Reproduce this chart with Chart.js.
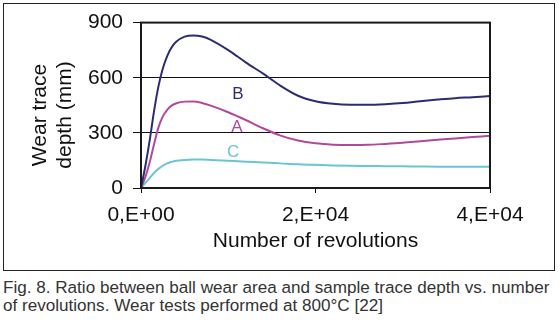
<!DOCTYPE html>
<html>
<head>
<meta charset="utf-8">
<script src="https://cdn.jsdelivr.net/npm/chart.js@4/dist/chart.umd.min.js"></script>
<style>
  html, body { margin: 0; padding: 0; background: #fff; }
  body { width: 560px; height: 324px; position: relative; overflow: hidden; font-family: "Liberation Sans", Arial, sans-serif; }
  #frame { position: absolute; left: 3px; top: 3px; width: 552px; height: 268px; box-sizing: border-box; border: 1px solid #222; }
  #chart { position: absolute; left: 0; top: 0; }
  #caption { position: absolute; left: 3px; top: 279px; width: 556px; font-size: 17.1px; line-height: 18px; color: #333; white-space: nowrap; }
</style>
</head>
<body>
<div id="frame"></div>
<canvas id="chart" width="560" height="272"></canvas>
<div id="caption">Fig. 8. Ratio between ball wear area and sample trace depth vs. number<br>of revolutions. Wear tests performed at 800°C [22]</div>
<script>
// Number of revolutions at which the curves are sampled
const revolutions = [0, 500, 1000, 1500, 2000, 2500, 3000, 3500, 4000, 5000, 6000, 7000, 8000, 10000,
  12000, 14000, 16000, 18000, 20000, 22000, 24000, 26000, 28000, 30000, 32000, 34000, 36000, 38000, 40000];

// Wear trace depth (mm) for each sample
const seriesB = [0, 120, 260, 420, 553, 650, 718, 765, 795, 824, 830, 824, 806, 750,
  684, 622, 556, 502, 472, 458, 453, 453, 456, 462, 472, 481, 489, 494, 500];
const seriesA = [0, 60, 140, 240, 330, 390, 425, 448, 460, 470, 471, 463, 448, 412,
  370, 325, 285, 258, 243, 236, 234, 235, 240, 246, 254, 262, 270, 277, 284];
const seriesC = [0, 28, 55, 82, 104, 121, 134, 142, 148, 153, 155, 155, 153, 148,
  143, 139, 134, 129, 126, 123, 121, 120, 119, 118, 117, 116, 116, 115, 115];

const seriesNames = ['B', 'A', 'C'];
const seriesColors = ['#2c2c72', '#b2489c', '#68c6d3'];

// Curve name tags, anchored in data units (revolutions, depth)
const tagRevs = [11100, 11000, 10550];
const tagDepths = [512, 329, 194];

const yTicks = [0, 300, 600, 900];
const xTickLabels = ['0,E+00', '2,E+04', '4,E+04'];

const yTitleLines = ['Wear trace', 'depth (mm)'];
const xTitle = 'Number of revolutions';

const FONT = '"Liberation Sans", Arial, sans-serif';

const datasets = [seriesB, seriesA, seriesC].map((vals, i) => ({
  label: seriesNames[i],
  data: revolutions.map((r, k) => ({ x: r, y: vals[k] })),
  borderColor: seriesColors[i],
  borderWidth: 2,
  pointRadius: 0,
  fill: false,
  cubicInterpolationMode: 'monotone'
}));

// Plot frame, rotated y-axis title and curve name tags
const decorations = {
  id: 'decorations',
  afterDatasetsDraw(chart) {
    const { ctx, chartArea: a, scales } = chart;
    ctx.save();
    ctx.strokeStyle = '#1a1a1a';
    ctx.lineWidth = 2;
    ctx.strokeRect(a.left, a.top, a.right - a.left, a.bottom - a.top);

    ctx.font = '17px ' + FONT;
    ctx.textAlign = 'center';
    ctx.textBaseline = 'middle';
    seriesNames.forEach((n, i) => {
      ctx.fillStyle = seriesColors[i];
      ctx.fillText(n, scales.x.getPixelForValue(tagRevs[i]), scales.y.getPixelForValue(tagDepths[i]));
    });

    ctx.fillStyle = '#111';
    ctx.font = '21px ' + FONT;
    ctx.translate(40.5, 115);
    ctx.rotate(-Math.PI / 2);
    yTitleLines.forEach((t, i) => ctx.fillText(t, 0, i * 25));
    ctx.restore();
  }
};

new Chart(document.getElementById('chart'), {
  type: 'line',
  data: { datasets },
  options: {
    responsive: false,
    animation: false,
    devicePixelRatio: 1,
    layout: { padding: { top: 21, right: 70, left: 0, bottom: 0 } },
    plugins: { legend: { display: false }, tooltip: { enabled: false } },
    scales: {
      x: {
        type: 'linear',
        min: 0,
        max: 40000,
        afterBuildTicks: s => { s.ticks = [0, 20000, 40000].map(v => ({ value: v })); },
        afterFit: s => { s.height = 84; },
        border: { display: false },
        grid: { drawOnChartArea: false, drawTicks: true, tickLength: 5, color: '#111', lineWidth: 1 },
        ticks: {
          padding: 10,
          color: '#111',
          font: { family: FONT, size: 21 },
          maxRotation: 0,
          callback: (v, i) => xTickLabels[i]
        },
        title: {
          display: true,
          text: xTitle,
          color: '#111',
          font: { family: FONT, size: 21 },
          padding: { top: 0, bottom: 18 }
        }
      },
      y: {
        min: 0,
        max: 900,
        afterBuildTicks: s => { s.ticks = yTicks.map(v => ({ value: v })); },
        afterFit: s => { s.width = 141; },
        border: { display: false },
        grid: { drawOnChartArea: true, drawTicks: true, tickLength: 8, color: '#111', lineWidth: 1 },
        ticks: {
          padding: 10,
          color: '#111',
          font: { family: FONT, size: 21 }
        }
      }
    }
  },
  plugins: [decorations]
});
</script>
</body>
</html>
